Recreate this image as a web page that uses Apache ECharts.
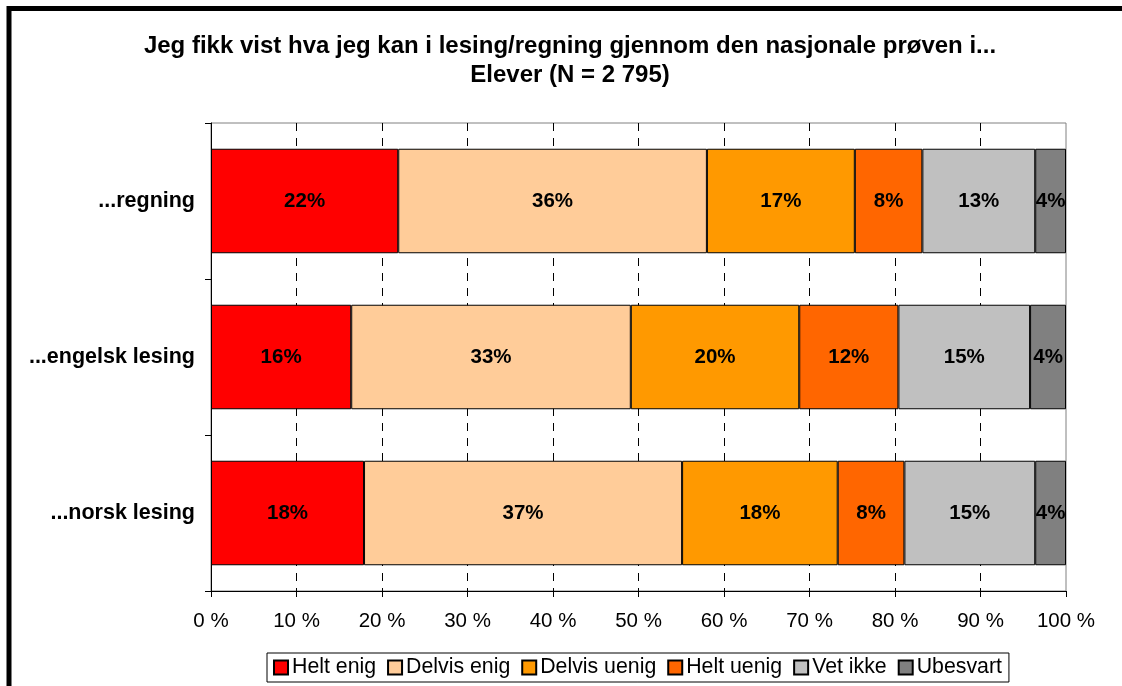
<!DOCTYPE html>
<html>
<head>
<meta charset="utf-8">
<script src="https://cdn.jsdelivr.net/npm/echarts@6/dist/echarts.min.js"></script>
<style>
  html, body { margin: 0; padding: 0; background: #fff; }
  #chart { width: 1122px; height: 686px; }
</style>
</head>
<body>
<div id="chart"></div>
<script>
// categories, bottom to top (category axis draws from the bottom)
var categories = ['...norsk lesing', '...engelsk lesing', '...regning'];

var seriesNames = ['Helt enig', 'Delvis enig', 'Delvis uenig', 'Helt uenig', 'Vet ikke', 'Ubesvart'];
var seriesColors = ['#FF0000', '#FFCC99', '#FF9900', '#FF6600', '#C0C0C0', '#808080'];

// percentages per answer, same order as categories
var heltEnig    = [17.9, 16.4, 21.9];
var delvisEnig  = [37.2, 32.7, 36.1];
var delvisUenig = [18.2, 19.7, 17.3];
var heltUenig   = [7.8, 11.6, 7.9];
var vetIkke     = [15.3, 15.4, 13.2];
var ubesvart    = [3.6, 4.2, 3.6];

var xTicks = [0, 10, 20, 30, 40, 50, 60, 70, 80, 90, 100];

var values = [heltEnig, delvisEnig, delvisUenig, heltUenig, vetIkke, ubesvart];

var font = 'Liberation Sans, Arial, sans-serif';

var series = seriesNames.map(function(name, i) {
    return {
        name: name,
        type: 'bar',
        stack: 'total',
        barCategoryGap: '33%',
        itemStyle: {
            color: seriesColors[i],
            borderColor: '#000',
            borderWidth: 1
        },
        label: {
            show: true,
            position: 'inside',
            color: '#000',
            fontFamily: font,
            fontWeight: 'bold',
            fontSize: 20.5,
            formatter: function(p) {
                return Math.round(p.value) + '%';
            }
        },
        emphasis: {disabled: true},
        data: values[i]
    };
});

var option = {
    animation: false,
    backgroundColor: '#fff',
    graphic: [{
        type: 'rect',
        shape: {x: 9, y: 8.5, width: 1300, height: 900},
        style: {fill: 'none', stroke: '#000', lineWidth: 5}
    }],
    title: {
        text: 'Jeg fikk vist hva jeg kan i lesing/regning gjennom den nasjonale prøven i...\nElever (N = 2 795)',
        left: 565,
        top: 27,
        textAlign: 'center',
        textStyle: {
            fontFamily: font,
            fontWeight: 'bold',
            fontSize: 24,
            lineHeight: 29,
            color: '#000'
        }
    },
    legend: {
        data: seriesNames,
        left: 267,
        top: 653,
        padding: [4, 7, 4, 6],
        itemGap: 11,
        itemWidth: 14,
        itemHeight: 14,
        borderColor: '#000',
        borderWidth: 1,
        icon: 'rect',
        textStyle: {
            fontFamily: font,
            fontSize: 21.3,
            color: '#000',
            padding: [0, 0, 0, -1]
        }
    },
    grid: {
        left: 211,
        top: 123,
        width: 855,
        height: 468,
        show: true,
        borderColor: '#808080',
        borderWidth: 1
    },
    xAxis: {
        type: 'value',
        min: xTicks[0],
        max: xTicks[xTicks.length - 1],
        interval: 10,
        axisLine: {show: true, lineStyle: {color: '#000'}},
        axisTick: {show: true, length: 6, lineStyle: {color: '#000'}},
        axisLabel: {
            margin: 20,
            fontFamily: font,
            fontSize: 20.5,
            color: '#000',
            formatter: '{value} %'
        },
        splitLine: {
            show: true,
            showMinLine: false,
            showMaxLine: false,
            lineStyle: {color: '#000', type: [8, 7], width: 1}
        }
    },
    yAxis: {
        type: 'category',
        data: categories,
        axisLine: {show: true, lineStyle: {color: '#000'}},
        axisTick: {show: true, length: 6, lineStyle: {color: '#000'}},
        axisLabel: {
            margin: 16,
            fontFamily: font,
            fontWeight: 'bold',
            fontSize: 21.5,
            color: '#000'
        }
    },
    series: series
};

var chart = echarts.init(document.getElementById('chart'), null, {renderer: 'canvas'});
chart.setOption(option);
</script>
</body>
</html>
